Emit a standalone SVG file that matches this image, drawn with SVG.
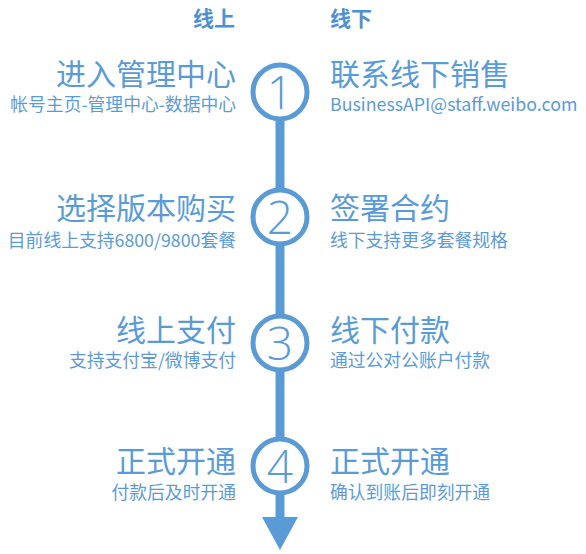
<svg xmlns="http://www.w3.org/2000/svg" width="586" height="554" viewBox="0 0 586 554">
  <style>
    text { font-family: "Noto Sans CJK SC", "Noto Sans", sans-serif; fill: #5b9bd5; }
    .head { font-size: 21px; font-weight: bold; fill: #4f90d0; }
    .title { font-size: 30px; }
    .sub { font-size: 17.8px; }
    .l { text-anchor: end; }
    .num { font-family: "Open Sans", "Noto Sans", sans-serif; font-size: 46px; font-weight: 300; text-anchor: middle; }
    .ring { fill: #ffffff; stroke: #5b9bd5; stroke-width: 5; }
    .line { stroke: #5b9bd5; stroke-width: 9; fill: none; }
  </style>
  <g id="headers">
    <text class="head" x="193" y="26">线上</text>
    <text class="head" x="330" y="26">线下</text>
  </g>
  <g id="connectors">
    <line class="line" x1="280" y1="110" x2="280" y2="520"/>
    <path d="M262,517 L298,517 L280,550 Z" fill="#5b9bd5"/>
  </g>
  <g id="step1">
    <circle class="ring" cx="280" cy="92" r="27"/>
    <text class="num" x="280" y="109">1</text>
    <text class="title l" x="236" y="85">进入管理中心</text>
    <text class="sub l" x="236" y="111">帐号主页-管理中心-数据中心</text>
    <text class="title" x="330" y="85">联系线下销售</text>
    <text class="sub" x="330" y="111">BusinessAPI@staff.weibo.com</text>
  </g>
  <g id="step2">
    <circle class="ring" cx="280" cy="217" r="27"/>
    <text class="num" x="280" y="234">2</text>
    <text class="title l" x="236" y="219">选择版本购买</text>
    <text class="sub l" x="236" y="247">目前线上支持6800/9800套餐</text>
    <text class="title" x="330" y="219">签署合约</text>
    <text class="sub" x="330" y="247">线下支持更多套餐规格</text>
  </g>
  <g id="step3">
    <circle class="ring" cx="280" cy="343" r="27"/>
    <text class="num" x="280" y="360">3</text>
    <text class="title l" x="236" y="341">线上支付</text>
    <text class="sub l" x="236" y="367">支持支付宝/微博支付</text>
    <text class="title" x="330" y="341">线下付款</text>
    <text class="sub" x="330" y="367">通过公对公账户付款</text>
  </g>
  <g id="step4">
    <circle class="ring" cx="280" cy="466" r="27"/>
    <text class="num" x="280" y="483">4</text>
    <text class="title l" x="236" y="472">正式开通</text>
    <text class="sub l" x="236" y="499">付款后及时开通</text>
    <text class="title" x="330" y="472">正式开通</text>
    <text class="sub" x="330" y="499">确认到账后即刻开通</text>
  </g>
</svg>
